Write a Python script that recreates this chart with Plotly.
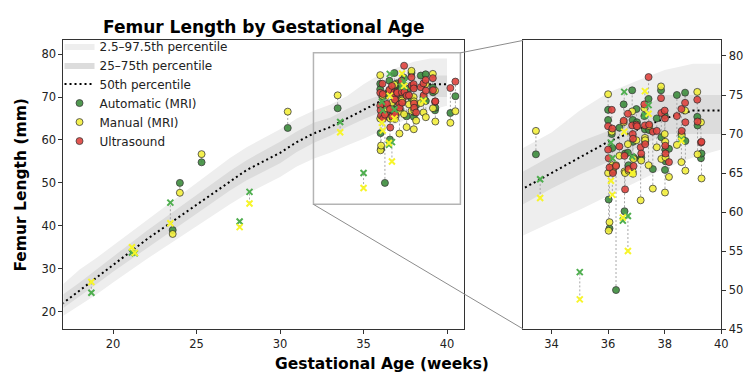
import plotly.graph_objects as go

# reference percentiles (weekly)
weeks = list(range(16, 41))
p2_5 = [16.0, 19.0, 21.5, 24.0, 26.8, 29.6, 32.2, 34.8, 37.3, 39.9, 42.5, 45.0, 47.4,
        49.4, 51.4, 53.8, 55.6, 57.0, 58.7, 60.3, 62.0, 63.8, 65.6, 67.0, 68.0]
p25 = [17.5, 20.8, 23.5, 26.4, 29.3, 32.2, 34.9, 37.5, 40.1, 42.8, 45.5, 48.2, 50.6,
       52.6, 54.6, 57.2, 59.3, 61.0, 63.0, 64.8, 66.4, 68.2, 70.0, 70.0, 70.0]
p50 = [19.0, 22.0, 25.0, 28.0, 31.0, 34.0, 36.8, 39.5, 42.2, 45.0, 47.8, 50.5, 53.0,
       55.0, 57.0, 59.5, 61.5, 63.0, 65.0, 67.0, 69.0, 70.5, 72.0, 73.0, 73.0]
p75 = [20.6, 24.0, 26.8, 29.8, 32.9, 36.0, 38.8, 41.6, 44.4, 47.2, 50.0, 52.8, 55.3,
       57.4, 59.6, 62.0, 64.0, 65.2, 67.2, 69.0, 70.4, 73.0, 75.0, 75.0, 75.0]
p97_5 = [23.0, 26.3, 29.8, 32.5, 35.4, 38.3, 41.2, 44.1, 47.0, 50.0, 52.9, 55.8, 58.3,
         60.5, 62.5, 65.0, 66.8, 68.2, 70.2, 73.0, 75.3, 76.8, 78.2, 79.0, 79.0]

# per-subject measurements (mm); None = no ultrasound
ga = [18.7, 21.13, 21.3, 23.43, 23.57, 24.0, 25.3, 27.58, 28.17, 30.46, 33.45, 33.6, 35.0,
      36.1, 36.15, 36.57, 36.52, 36.7, 36.85, 37.3, 37.43, 38.59,
      36.0, 36.0, 36.02, 36.05, 36.13, 36.15, 36.17, 36.28, 36.4, 36.55, 36.58, 36.6,
      36.7, 36.72, 36.85, 36.87, 36.88, 36.9, 37.0, 37.02, 37.15, 37.17, 37.28, 37.3,
      37.31, 37.43, 37.45, 37.58, 37.72, 37.87, 37.88, 38.0, 38.01, 38.02, 38.03, 38.15,
      38.43, 38.59, 38.6, 38.72, 38.73, 39.15, 39.16, 39.28, 39.3, 40.2, 40.5]
auto_fl = [24.4, 33.8, 33.6, 45.4, 39.0, 50.0, 54.8, 41.0, 47.9, 62.8, 67.4, 64.2, 52.3,
           68.9, 66.9, 75.4, 58.9, 59.5, 67.1, 72.4, 73.7, 69.3,
           73.1, 71.8, 61.6, 57.9, 70.0, 68.2, 65.2, 50.0, 70.8, 73.8, 60.1, 67.5,
           67.6, 66.0, 75.6, 71.8, 69.0, 67.0, 73.2, 71.5, 66.8, 67.0, 72.3, 70.6,
           69.0, 74.5, 70.5, 65.5, 72.0, 75.6, 69.6, 72.4, 65.4, 68.0, 66.5, 68.1,
           75.0, 70.0, 69.5, 75.3, 69.1, 72.2, 71.1, 66.9, 67.5, 66.3, 70.2]
manual_fl = [26.9, 35.0, 33.7, 40.6, 38.1, 47.7, 56.7, 39.7, 45.2, 66.6, 70.4, 61.8, 48.8,
             64.0, 62.2, 70.3, 59.3, 55.0, 65.0, 75.5, 72.6, 69.1,
             75.1, 65.0, 57.6, 58.7, 70.3, 66.0, 65.5, 66.0, 67.2, 71.5, 65.2, 65.0,
             68.7, 65.3, 72.9, 65.2, 64.9, 66.8, 69.2, 71.0, 61.5, 66.6, 73.3, 69.5,
             69.2, 66.0, 71.0, 63.0, 68.3, 76.1, 66.8, 70.0, 62.5, 69.0, 67.0, 64.5,
             68.6, 66.4, 69.8, 73.0, 65.3, 75.4, 67.4, 71.5, 64.3, 64.0, 66.7]
us_fl = [None] * 22 + [
    71.0, 68.0, 66.9, 65.7, 73.1, 70.7, 65.0, 65.9, 68.4, 71.7, 67.2, 62.9,
    72.6, 65.5, 71.1, 70.0, 69.4, 65.9, 71.2, 71.0, 68.3, 67.5, 73.8, 71.1,
    68.7, 77.3, 71.2, 70.3, 70.4, 74.6, 72.7, 73.0, 72.0, 68.5, 67.5, 66.4,
    72.3, 73.2, 70.4, 74.0, 71.5, 74.4, 71.6, 68.9, 69.0, 72.1, 73.6]
marker_kind = ['x', 'x', 'x', 'x', 'o', 'o', 'o', 'x', 'x', 'o', 'o', 'x', 'x',
               'x', 'x', 'x', 'x', 'x', 'x', 'x', 'x', 'x'] + ['o'] * 47

W, H = 755, 384
main_dom_x = [56 / W, 460 / W]
ins_dom_x = [520 / W, 720 / W]
dom_y = [1 - 327 / H, 1 - 33 / H]
main_xr = [17.03, 41.0]
main_yr = [15.95, 83.2]
ins_xr = [33.0, 40.0]
ins_yr = [45.0, 82.0]

C_AUTO, C_MAN, C_US = '#3e8e3e', '#f3ef3c', '#e0443f'
XC_AUTO, XC_MAN = '#4fae4f', '#f7f52a'

fig = go.Figure()


def add_panel(xa, ya, legend):
    fig.add_trace(go.Scatter(x=weeks + weeks[::-1], y=p97_5 + p2_5[::-1], fill='toself',
                             fillcolor='#eeeeee', line=dict(width=0), mode='lines',
                             name='2.5–97.5th percentile', showlegend=legend,
                             xaxis=xa, yaxis=ya, hoverinfo='skip'))
    fig.add_trace(go.Scatter(x=weeks + weeks[::-1], y=p75 + p25[::-1], fill='toself',
                             fillcolor='#dcdcdc', line=dict(width=0), mode='lines',
                             name='25–75th percentile', showlegend=legend,
                             xaxis=xa, yaxis=ya, hoverinfo='skip'))
    fig.add_trace(go.Scatter(x=weeks, y=p50, mode='lines',
                             line=dict(color='black', width=2, dash='2px,3px'),
                             name='50th percentile', showlegend=legend, xaxis=xa, yaxis=ya))
    # dotted connectors per subject
    lx, ly = [], []
    for i in range(len(ga)):
        vals = [v for v in (auto_fl[i], manual_fl[i], us_fl[i]) if v is not None]
        lx += [ga[i], ga[i], None]
        ly += [min(vals), max(vals), None]
    fig.add_trace(go.Scatter(x=lx, y=ly, mode='lines', showlegend=False,
                             line=dict(color='#a8a8a8', width=1, dash='2px,2px'),
                             xaxis=xa, yaxis=ya))
    oi = [i for i in range(len(ga)) if marker_kind[i] == 'o']
    xi = [i for i in range(len(ga)) if marker_kind[i] == 'x']
    for name, vals, col in [('Automatic (MRI)', auto_fl, C_AUTO),
                            ('Manual (MRI)', manual_fl, C_MAN),
                            ('Ultrasound', us_fl, C_US)]:
        idx = [i for i in oi if vals[i] is not None]
        fig.add_trace(go.Scatter(x=[ga[i] for i in idx], y=[vals[i] for i in idx],
                                 mode='markers', name=name, showlegend=legend,
                                 marker=dict(color=col, size=7, opacity=0.9,
                                             line=dict(color='#2a2a2a', width=0.8)),
                                 xaxis=xa, yaxis=ya))
    for vals, col in [(auto_fl, XC_AUTO), (manual_fl, XC_MAN)]:
        fig.add_trace(go.Scatter(x=[ga[i] for i in xi], y=[vals[i] for i in xi],
                                 mode='markers', showlegend=False,
                                 marker=dict(symbol='x-thin', size=6,
                                             line=dict(color=col, width=2)),
                                 xaxis=xa, yaxis=ya))


add_panel('x', 'y', True)
add_panel('x2', 'y2', False)

ax_common = dict(showline=True, mirror=True, linecolor='#333333', linewidth=1.2,
                 ticks='outside', ticklen=4, tickcolor='#333333', showgrid=False,
                 zeroline=False, tickfont=dict(family='DejaVu Sans', size=11.5, color='#222222'))

fig.update_layout(
    width=W, height=H, margin=dict(l=0, r=0, t=0, b=0),
    plot_bgcolor='white', paper_bgcolor='white',
    xaxis=dict(domain=main_dom_x, range=main_xr, tickvals=[20, 25, 30, 35, 40],
               anchor='y', **ax_common),
    yaxis=dict(domain=dom_y, range=main_yr, tickvals=[20, 30, 40, 50, 60, 70, 80],
               anchor='x', **ax_common),
    xaxis2=dict(domain=ins_dom_x, range=ins_xr, tickvals=[34, 36, 38, 40],
                anchor='y2', **ax_common),
    yaxis2=dict(domain=dom_y, range=ins_yr, tickvals=[45, 50, 55, 60, 65, 70, 75, 80],
                anchor='x2', side='right', **ax_common),
    legend=dict(x=52 / W, y=1 - 24 / H, xanchor='left', yanchor='top',
                bgcolor='rgba(255,255,255,0)', font=dict(family='DejaVu Sans', size=12,
                                                         color='#222222'),
                tracegroupgap=0),
    showlegend=True,
)


def to_paper(v, r, d):
    return d[0] + (v - r[0]) / (r[1] - r[0]) * (d[1] - d[0])


# zoom indicator
rx0, rx1, ry0, ry1 = 32.0, 40.8, 45.0, 80.3
fig.add_shape(type='rect', xref='x', yref='y', x0=rx0, x1=rx1, y0=ry0, y1=ry1,
              line=dict(color='#b4b4b4', width=1.5))
fig.add_shape(type='line', xref='paper', yref='paper',
              x0=to_paper(rx1, main_xr, main_dom_x), y0=to_paper(ry1, main_yr, dom_y),
              x1=ins_dom_x[0], y1=dom_y[1], line=dict(color='#8c8c8c', width=1))
fig.add_shape(type='line', xref='paper', yref='paper',
              x0=to_paper(rx0, main_xr, main_dom_x), y0=to_paper(ry0, main_yr, dom_y),
              x1=ins_dom_x[0], y1=dom_y[0], line=dict(color='#8c8c8c', width=1))

bold = dict(family='DejaVu Sans', color='black')
fig.add_annotation(text='<b>Femur Length by Gestational Age</b>', xref='paper', yref='paper',
                   x=(main_dom_x[0] + main_dom_x[1]) / 2, y=1 - 19 / H, showarrow=False,
                   font=dict(size=17, **bold), xanchor='center', yanchor='middle')
fig.add_annotation(text='<b>Femur Length (mm)</b>', xref='paper', yref='paper',
                   x=13 / W, y=(dom_y[0] + dom_y[1]) / 2, textangle=-90, showarrow=False,
                   font=dict(size=15.5, **bold), xanchor='center', yanchor='middle')
fig.add_annotation(text='<b>Gestational Age (weeks)</b>', xref='paper', yref='paper',
                   x=378 / W, y=1 - 363 / H, showarrow=False,
                   font=dict(size=15.5, **bold), xanchor='center', yanchor='middle')

fig.write_html("out.html")
